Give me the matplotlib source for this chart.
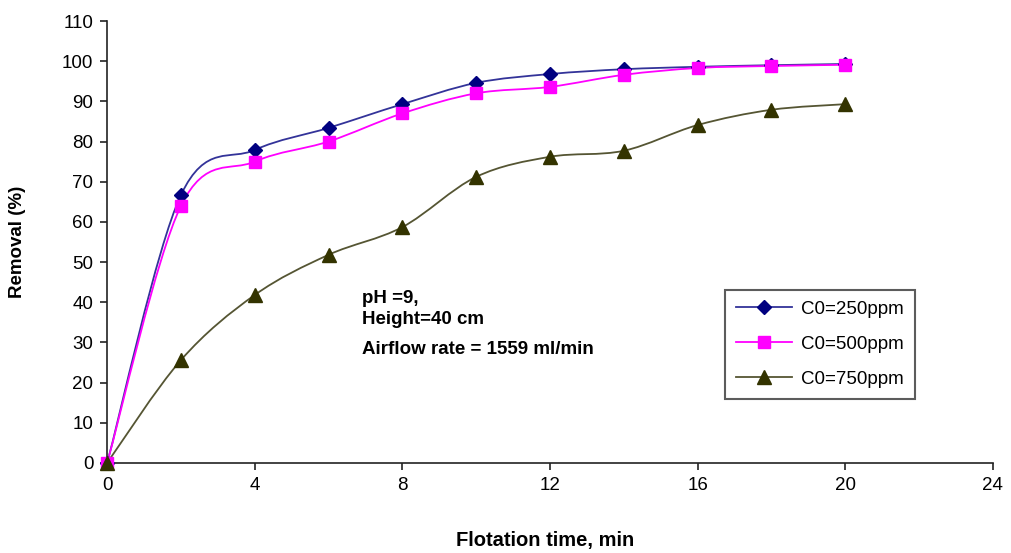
import numpy as np
import matplotlib.pyplot as plt
from matplotlib.path import Path
from matplotlib.patches import PathPatch
from matplotlib.lines import Line2D

plt.rcParams['font.family'] = ['Liberation Sans', 'DejaVu Sans']

# Data
time_min = [0, 2, 4, 6, 8, 10, 12, 14, 16, 18, 20]
removal_250 = [0, 66.7, 77.9, 83.4, 89.3, 94.6, 96.8, 98.0, 98.6, 99.0, 99.3]
removal_500 = [0, 64.0, 75.0, 80.0, 87.0, 92.0, 93.6, 96.6, 98.3, 98.8, 99.1]
removal_750 = [0, 25.6, 41.8, 51.8, 58.7, 71.2, 76.2, 77.7, 84.1, 87.9, 89.3]

series_labels = ['C0=250ppm', 'C0=500ppm', 'C0=750ppm']
note_top = 'pH =9,\nHeight=40 cm'
note_bottom = 'Airflow rate = 1559 ml/min'


def smooth_path(x, y):
    """Excel-like smoothed line as cubic Bezier segments (Catmull-Rom)."""
    pts = np.column_stack([x, y]).astype(float)
    n = len(pts)
    verts = [pts[0]]
    codes = [Path.MOVETO]
    for i in range(n - 1):
        p0 = pts[i - 1] if i > 0 else pts[i]
        p1, p2 = pts[i], pts[i + 1]
        p3 = pts[i + 2] if i + 2 < n else pts[i + 1]
        c1 = p1 + (p2 - p0) / 6.0
        c2 = p2 - (p3 - p1) / 6.0
        verts += [c1, c2, p2]
        codes += [Path.CURVE4] * 3
    return Path(verts, codes)


fig = plt.figure(figsize=(10.11, 5.53), dpi=100)
ax = fig.add_axes([0.106, 0.163, 0.876, 0.799])

styles = [
    (removal_250, '#333399', '#000080', 'D', 7.5),
    (removal_500, '#FF00FF', '#FF00FF', 's', 9),
    (removal_750, '#555533', '#333300', '^', 9.5),
]

handles = []
for (vals, lc, mc, mk, ms), lab in zip(styles, series_labels):
    ax.add_patch(PathPatch(smooth_path(time_min, vals), facecolor='none',
                           edgecolor=lc, lw=1.3, zorder=2))
    ax.plot(time_min, vals, ls='none', marker=mk, ms=ms, color=mc,
            markeredgecolor=mc, zorder=3, clip_on=False)
    handles.append(Line2D([], [], color=lc, lw=1.3, marker=mk, ms=ms,
                          markerfacecolor=mc, markeredgecolor=mc, label=lab))

ax.set_xlim(0, 24)
ax.set_ylim(0, 110)
ax.set_xticks(range(0, 25, 4))
ax.set_yticks(range(0, 111, 10))
ax.spines['top'].set_visible(False)
ax.spines['right'].set_visible(False)
for s in ('left', 'bottom'):
    ax.spines[s].set_linewidth(1.2)
    ax.spines[s].set_color('#222222')
ax.tick_params(direction='out', length=5, width=1.2, labelsize=13.5,
               colors='#222222', labelcolor='black', pad=5)

ax.set_xlabel('Flotation time, min', fontsize=14.5, fontweight='bold')
ax.set_ylabel('Removal (%)', fontsize=13.5, fontweight='bold')
ax.xaxis.set_label_coords(0.494, -0.155)
ax.yaxis.set_label_coords(-0.092, 0.5)

ax.text(6.9, 43.0, note_top, fontsize=13.5, fontweight='bold', va='top',
        ha='left', linespacing=1.3)
ax.text(6.9, 28.1, note_bottom, fontsize=13.5, fontweight='bold',
        va='center', ha='left')

leg = ax.legend(handles=handles, loc='upper left', bbox_to_anchor=(0.6975, 0.392),
                fontsize=13.5, frameon=True, fancybox=False, handlelength=3.0,
                borderpad=0.6, labelspacing=0.95, handletextpad=0.45,
                borderaxespad=0)
leg.get_frame().set_edgecolor('#333333')
leg.get_frame().set_linewidth(1.5)

fig.savefig('out.png', dpi=100)
